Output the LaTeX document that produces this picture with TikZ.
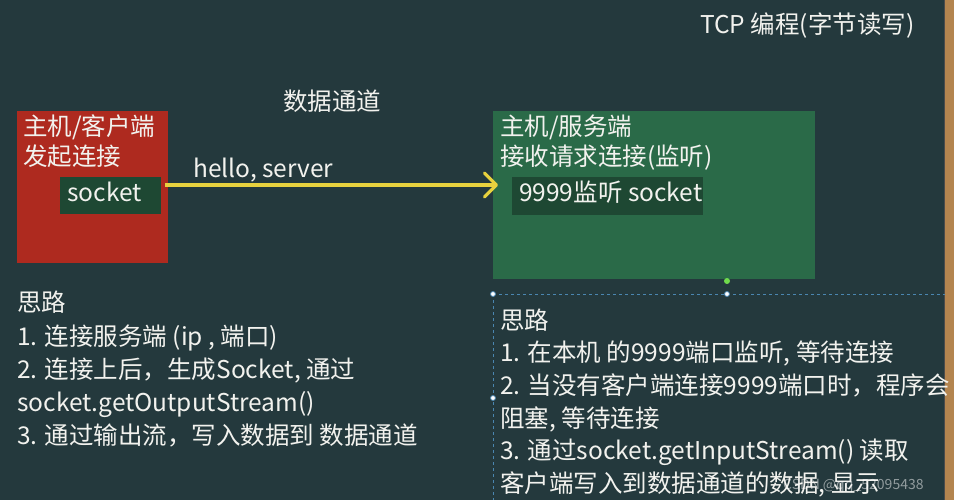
\documentclass[tikz,border=0pt]{standalone}
\usepackage{fontspec}
\setmainfont{Noto Sans CJK SC}
\usetikzlibrary{arrows.meta,calc}
\definecolor{board}{HTML}{24393D}
\definecolor{redbox}{HTML}{AE2A1F}
\definecolor{greenbox}{HTML}{2A6A48}
\definecolor{sockbox}{HTML}{1E4833}
\definecolor{chalk}{HTML}{F2F2EE}
\definecolor{arrowy}{HTML}{E8D23E}
\definecolor{wood}{HTML}{B4854F}
\definecolor{selblue}{HTML}{4A86B0}
\tikzset{
  txt/.style={anchor=base west, inner sep=0pt, text=chalk, font=\fontsize{24.5}{29}\selectfont},
  box/.style={anchor=north west, inner sep=0pt, draw=none},
  flow/.style={draw=arrowy, line width=3.2pt, -{Straight Barb[length=12pt,width=24pt,round]}},
  sel/.style={draw=selblue, line width=0.9pt, dash pattern=on 3pt off 3pt},
  handle/.style={circle, fill=white, draw=selblue, line width=0.8pt, inner sep=0pt, minimum size=5pt}
}
\begin{document}
\begin{tikzpicture}[x=1pt,y=-1pt]
\useasboundingbox (0,0) rectangle (954,500);
\fill[board] (0,0) rectangle (954,500);
\fill[wood] (945,0) rectangle (954,500);
\draw[black!70, line width=1.2pt] (944.5,0) -- (944.5,500);

\node[txt] (title) at (700,34) {TCP 编程(字节读写)};
\node[txt] (chan) at (283,111) {数据通道};

% client
\node[box, fill=redbox, minimum width=151pt, minimum height=152pt] (cli) at (17,111) {};
\node[txt] (cli1) at (23,136) {主机/客户端};
\node[txt] (cli2) at (23,166) {发起连接};
\node[box, fill=sockbox, minimum width=101pt, minimum height=37pt] (sock) at (60,177) {};
\node[txt] (socktxt) at (67,201) {socket};

% server
\node[box, fill=greenbox, minimum width=322pt, minimum height=168pt] (srv) at (493,111) {};
\node[txt] (srv1) at (500,136) {主机/服务端};
\node[txt] (srv2) at (500,166) {接收请求连接(监听)};
\node[box, fill=sockbox, minimum width=191pt, minimum height=38pt] (ssock) at (512,177) {};
\node[txt] (ssocktxt) at (519,201) {9999监听 socket};

% arrow
\draw[flow] ($(sock.north east)+(4,8)$) -- ($(sock.north east -| srv.west)+(5,8)$);
\node[txt] (hello) at (193,178) {hello, server};

% selection frame
\draw[sel] (493,294) -- (945,294);
\draw[sel] (493,294) -- (493,500);
\node[handle] (h1) at (493,294) {};
\node[handle] (h2) at (727,294) {};
\node[handle] (h3) at (493,398) {};
\node[circle, fill=green!60!olive!70, inner sep=0pt, minimum size=6pt] (rot) at (727,281) {};

% left notes
\node[txt] (l0) at (17,311) {思路};
\node[txt] (l1) at (17,345) {1. 连接服务端 (ip , 端口)};
\node[txt] (l2) at (17,378) {2. 连接上后，生成Socket, 通过};
\node[txt] (l3) at (17,411) {socket.getOutputStream()};
\node[txt] (l4) at (17,444) {3. 通过输出流，写入数据到 数据通道};

% right notes
\node[txt] (r0) at (500,329) {思路};
\node[txt] (r1) at (500,361) {1. 在本机 的9999端口监听, 等待连接};
\node[txt] (r2) at (500,394) {2. 当没有客户端连接9999端口时，程序会};
\node[txt] (r3) at (500,427) {阻塞, 等待连接};
\node[txt] (r4) at (500,459) {3. 通过socket.getInputStream() 读取};
\node[txt] (r5) at (500,492) {客户端写入到数据通道的数据, 显示};

\node[anchor=base west, inner sep=0pt, text=white, opacity=0.5, font=\fontsize{14}{16}\selectfont] (wm) at (783,489) {CSDN @qq\_52095438};
\end{tikzpicture}
\end{document}
